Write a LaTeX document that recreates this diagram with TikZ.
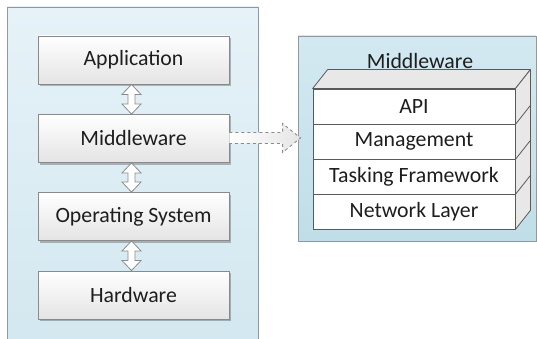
\documentclass[tikz,border=0pt]{standalone}
\usepackage{fontspec}
\setmainfont{Carlito}
\usetikzlibrary{calc,shadows}
\definecolor{lpTop}{HTML}{E6F2F8}
\definecolor{lpBot}{HTML}{D2E7EF}
\definecolor{rpTop}{HTML}{D3E9F1}
\definecolor{rpBot}{HTML}{C0DEE8}
\definecolor{panelLine}{HTML}{8E9AA0}
\definecolor{boxLine}{HTML}{8A8A8A}
\definecolor{boxBot}{HTML}{E4E4E4}
\definecolor{cubeLine}{HTML}{5A5A5A}
\definecolor{cubeFace}{HTML}{E8E8E8}
\definecolor{arrLine}{HTML}{8C8C8C}
\definecolor{txt}{HTML}{1E1E1E}
\begin{document}
\begin{tikzpicture}[x=1pt,y=-1pt,
  every node/.style={font=\fontsize{21.8}{25}\selectfont, text=txt},
  lbox/.style={draw=boxLine, line width=0.9pt, top color=white, bottom color=boxBot,
    minimum width=191pt, minimum height=48pt, inner sep=0pt,
    drop shadow={shadow xshift=2pt, shadow yshift=-2pt, fill=black, opacity=0.25}},
  layerrow/.style={draw=cubeLine, line width=0.8pt, fill=white,
    minimum width=202pt, minimum height=35pt, inner sep=0pt},
  blockarr/.style={draw=arrLine, line width=0.8pt, fill=white},
  dasharr/.style={draw=arrLine, line width=0.9pt, dashed, left color=white, right color=white!80!gray}
]
\useasboundingbox (0,0) rectangle (537,339);
\clip (0,0) rectangle (537,339);
% left panel
\draw[panelLine, line width=0.9pt, top color=lpTop, bottom color=lpBot] (7,7) rectangle (258,360);
% right panel
\node[draw=panelLine, line width=0.9pt, top color=rpTop, bottom color=rpBot,
  minimum width=238pt, minimum height=205pt, inner sep=0pt] (rp) at (417,138.5) {};
\node (rptitle) at (420,61) {Middleware};
% left boxes
\node[lbox] (app) at (133.5,60) {Application};
\node[lbox] (mw)  at (133.5,138.5) {Middleware};
\node[lbox] (os)  at (133.5,216.5) {Operating System};
\node[lbox] (hw)  at (133.5,295) {Hardware};
% double block arrows
\foreach \a/\b in {app/mw, mw/os, os/hw}{
  \draw[blockarr] let \p1=(\a.south), \p2=(\b.north) in
    (\x1-2pt,\y1) -- (\x1+7.5pt,\y1-10pt) -- (\x1+1.5pt,\y1-10pt) -- (\x1+1.5pt,\y2+10pt)
    -- (\x1+7.5pt,\y2+10pt) -- (\x1-2pt,\y2) -- (\x1-11.5pt,\y2+10pt) -- (\x1-5.5pt,\y2+10pt)
    -- (\x1-5.5pt,\y1-10pt) -- (\x1-11.5pt,\y1-10pt) -- cycle;
}
% dashed block arrow
\draw[dasharr] let \p1=(mw.east), \p2=(rp.west) in
  (\x1,\y1+6pt) -- (\x2-15pt,\y1+6pt) -- (\x2-15pt,\y1+15pt) -- (\x2+3pt,\y1+0.5pt)
  -- (\x2-15pt,\y1-14pt) -- (\x2-15pt,\y1-5pt) -- (\x1,\y1-5pt);
% cube rows
\node[layerrow] (api)  at (414,106.5) {API};
\node[layerrow] (mgmt) at (414,141.5) {Management};
\node[layerrow] (task) at (414,176.5) {Tasking Framework};
\node[layerrow] (net)  at (414,211.5) {Network Layer};
% top and side faces
\draw[cubeLine, line width=0.8pt, fill=cubeFace, line join=round]
  (api.north west) -- ++(15,-19) -- ($(api.north east)+(15,-19)$) -- (api.north east) -- cycle;
\draw[cubeLine, line width=0.8pt, fill=cubeFace, line join=round]
  (api.north east) -- ++(15,-19) -- ($(net.south east)+(15,-19)$) -- (net.south east) -- cycle;
\foreach \r in {api, mgmt, task}{
  \draw[cubeLine, line width=0.8pt] (\r.south east) -- ++(15,-19);
}
\end{tikzpicture}
\end{document}
